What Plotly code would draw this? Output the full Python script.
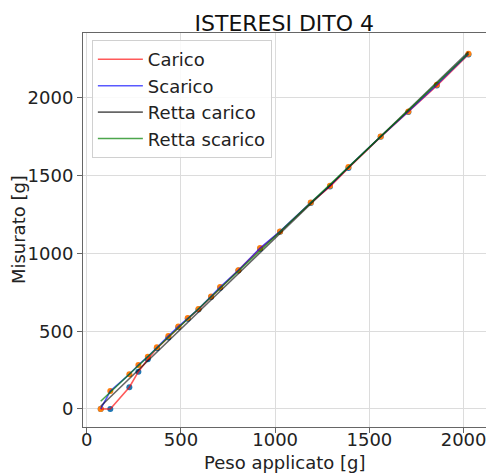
import numpy as np
import plotly.graph_objects as go

# Applied weights [g] and measured values [g] for loading / unloading
peso = [74, 125, 226, 274, 324, 372, 433, 486, 536, 593, 660, 708, 805,
        920, 1026, 1189, 1291, 1389, 1560, 1707, 1858, 2026]
carico = [0, 0, 140, 240, 320, 390, 460, 525, 580, 640, 720, 780, 890,
          1030, 1140, 1325, 1430, 1550, 1750, 1910, 2080, 2280]
scarico = [0, 115, 223, 283, 336, 397, 469, 530, 585, 643, 724, 784, 892,
           1035, 1142, 1328, 1436, 1556, 1752, 1913, 2085, 2285]

x_ticks = [0, 500, 1000, 1500, 2000]
y_ticks = [0, 500, 1000, 1500, 2000]

FONT = "DejaVu Sans"

# least-squares lines for both branches
pc = np.polyfit(peso, carico, 1)
ps = np.polyfit(peso, scarico, 1)
xs = np.array([min(peso), max(peso)])

fig = go.Figure()

fig.add_trace(go.Scatter(x=peso, y=carico, mode="markers",
                         marker=dict(color="#1f77b4", size=6),
                         showlegend=False, hoverinfo="skip"))
fig.add_trace(go.Scatter(x=peso, y=scarico, mode="markers",
                         marker=dict(color="#ff7f0e", size=6),
                         showlegend=False, hoverinfo="skip"))

fig.add_trace(go.Scatter(x=peso, y=carico, mode="lines", name="Carico",
                         line=dict(color="rgba(255,0,0,0.65)", width=1.6)))
fig.add_trace(go.Scatter(x=peso, y=scarico, mode="lines", name="Scarico",
                         line=dict(color="rgba(0,0,255,0.65)", width=1.6)))
fig.add_trace(go.Scatter(x=xs, y=np.polyval(pc, xs), mode="lines",
                         name="Retta carico",
                         line=dict(color="rgba(0,0,0,0.6)", width=1.6)))
fig.add_trace(go.Scatter(x=xs, y=np.polyval(ps, xs), mode="lines",
                         name="Retta scarico",
                         line=dict(color="rgba(0,128,0,0.7)", width=1.6)))

axis_common = dict(
    showgrid=True, gridcolor="#dcdcdc", gridwidth=1,
    showline=True, linecolor="#666", linewidth=1, mirror=True,
    ticks="outside", ticklen=5, tickcolor="#666",
    tickfont=dict(family=FONT, size=18, color="#222"),
    ticklabeloverflow="allow",
    zeroline=False, automargin=False,
)

label_font = dict(family=FONT, size=18, color="#222")

fig.update_layout(
    width=486, height=475,
    margin=dict(l=83, r=0, t=33, b=48),
    paper_bgcolor="white", plot_bgcolor="white",
    title=dict(text="ISTERESI DITO 4", x=0.585, xanchor="center",
               y=0.952, yanchor="middle",
               font=dict(family=FONT, size=22, color="#111")),
    xaxis=dict(range=[-20, 2119], tickvals=x_ticks, ticklabelstandoff=-9,
               **axis_common),
    yaxis=dict(range=[-116, 2418], tickvals=y_ticks, **axis_common),
    legend=dict(x=0.022, y=0.982, xanchor="left", yanchor="top",
                bgcolor="rgba(255,255,255,0.85)", bordercolor="#d0d0d0",
                borderwidth=1, tracegroupgap=0, itemwidth=45,
                font=dict(family=FONT, size=18, color="#222")),
    annotations=[
        dict(text="Peso applicato [g]", xref="paper", yref="paper",
             x=0.499, y=-0.089, xanchor="center", yanchor="middle",
             showarrow=False, font=label_font),
        dict(text="Misurato [g]", xref="paper", yref="paper",
             x=-0.161, y=0.5, xanchor="center", yanchor="middle",
             textangle=-90, showarrow=False, font=label_font),
    ],
)

fig.write_html("out.html")
